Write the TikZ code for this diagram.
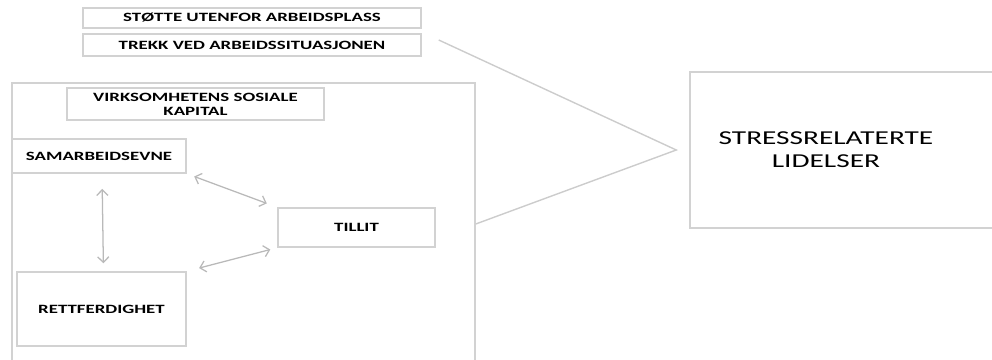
\documentclass[tikz,border=0pt]{standalone}
\usepackage{fontspec}
\setmainfont{Carlito}
\usetikzlibrary{arrows.meta}

\begin{document}
\begin{tikzpicture}[x=0.025cm, y=-0.025cm,
    box/.style={draw=gray!35, line width=1pt, inner sep=0pt, align=center,
                font=\fontsize{9}{10}\selectfont\bfseries\addfontfeature{FakeStretch=1.49}},
    twoway/.style={{Straight Barb[length=4pt]}-{Straight Barb[length=4pt]}, draw=gray!55, line width=0.9pt},
    link/.style={draw=gray!40, line width=1pt}]
                \useasboundingbox (0,0) rectangle (992,360);
                \node[box, minimum width=8.45cm, minimum height=0.5cm] (stotte) at (252,18) {STØTTE UTENFOR ARBEIDSPLASS};
                \node[box, minimum width=8.45cm, minimum height=0.55cm] (trekk) at (252,45) {TREKK VED ARBEIDSSITUASJONEN};
                \node[box, minimum width=11.575cm, minimum height=7.05cm] (sosial) at (243.5,224) {};
                \node[box, minimum width=6.425cm, minimum height=0.8cm] (virk) at (195.5,104) {VIRKSOMHETENS SOSIALE\\KAPITAL};
                \node[box, minimum width=4.35cm, minimum height=0.85cm] (samarb) at (99,156) {SAMARBEIDSEVNE};
                \node[box, minimum width=3.925cm, minimum height=0.975cm] (tillit) at (356.5,227.5) {TILLIT};
                \node[box, minimum width=4.225cm, minimum height=1.85cm] (rett) at (101.5,309) {RETTFERDIGHET};
                \node[box, minimum width=8cm, minimum height=3.9cm,
                      label={[font=\fontsize{14}{16.5}\selectfont\addfontfeature{FakeStretch=1.49}, align=center, xshift=-0.6cm]center:STRESSRELATERTE\\LIDELSER}] (stress) at (850,150) {};
                \coordinate (tip) at ([shift={(-13,0)}]stress.west);
                \draw[twoway, shorten <=0.2cm, shorten >=0.28cm] (samarb.south east) -- (tillit.north west);
                \draw[twoway, shorten <=0.38cm, shorten >=0.2cm] ([shift={(3,0)}]samarb.south) -- ([shift={(2,0)}]rett.north);
                \draw[twoway, shorten <=0.32cm, shorten >=0.18cm] (rett.north east) -- (tillit.south west);
                \draw[link] ([shift={(17,-5)}]trekk.east) -- (tip) -- (sosial.east);
            \end{tikzpicture}
\end{document}
